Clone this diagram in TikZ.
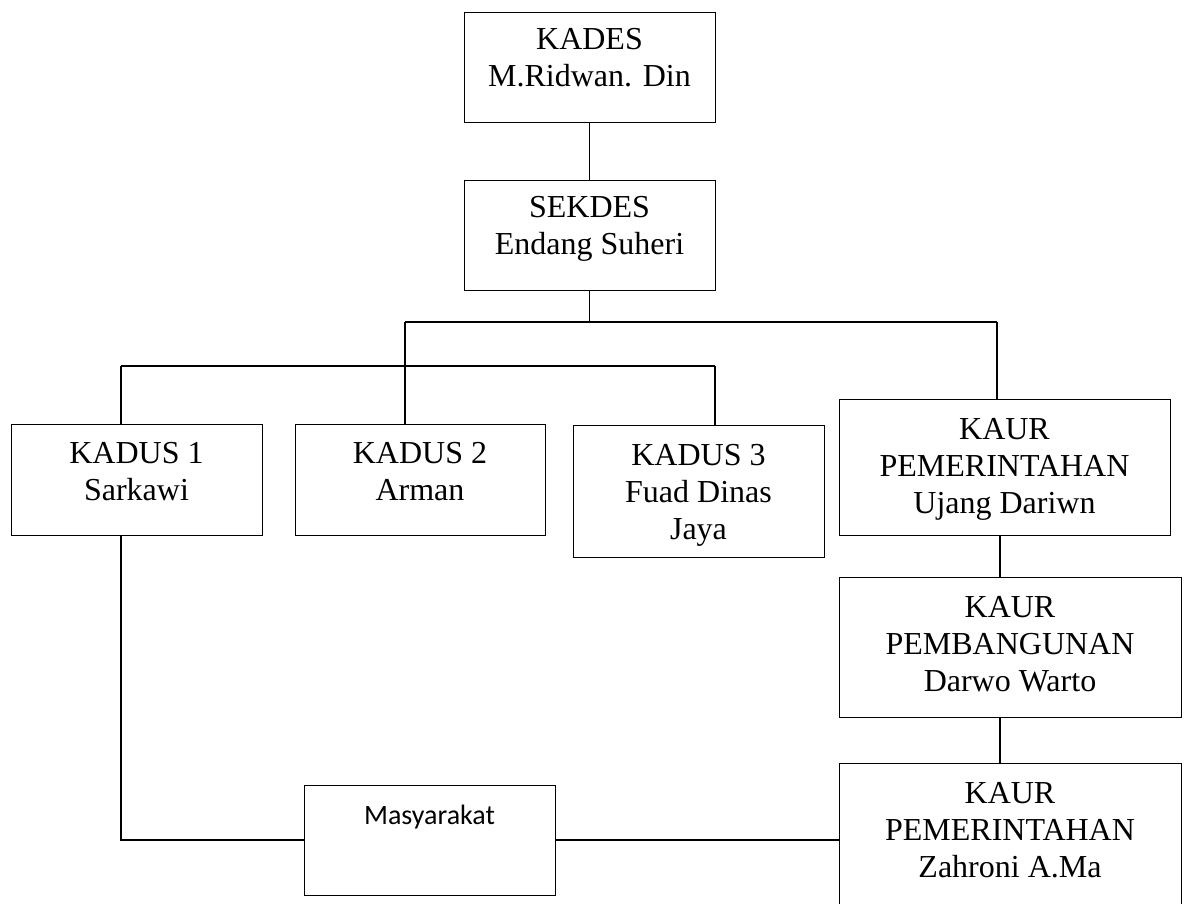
\documentclass[tikz,border=0pt]{standalone}
\usepackage{fontspec}
\setmainfont{Liberation Serif}
\newfontfamily\calibrifont{Carlito}
\usetikzlibrary{positioning}

\begin{document}
\begin{tikzpicture}[x=1pt,y=-1pt,
    box/.style={draw=black,line width=0.9pt,inner sep=0pt,minimum width=251pt,minimum height=110pt},
    txt/.style={align=center,inner sep=0pt,font=\fontsize{32}{36.7}\selectfont},
    link/.style={draw=black,line width=1.4pt}]
  \useasboundingbox (0,0) rectangle (1189,904);
  \clip (0,0) rectangle (1189,904);
  % top of the chart
  \node[box] (kades) at (589.5,67) {};
  \node[txt,below=17pt of kades.north] (kadest) {KADES\\M.Ridwan. Din};
  \node[box] (sekdes) at (589.5,235) {};
  \node[txt,below=17pt of sekdes.north] (sekdest) {SEKDES\\Endang Suheri};
  % kadus row
  \node[box,minimum height=111pt] (kadus1) at (136.5,479.5) {};
  \node[txt,below=19pt of kadus1.north] (kadus1t) {KADUS 1\\Sarkawi};
  \node[box,minimum width=250pt,minimum height=111pt] (kadus2) at (420,479.5) {};
  \node[txt,below=19pt of kadus2.north] (kadus2t) {KADUS 2\\Arman};
  \node[box,minimum height=132pt] (kadus3) at (698.5,491) {};
  \node[txt,below=20pt of kadus3.north] (kadus3t) {KADUS 3\\Fuad Dinas\\Jaya};
  % kaur column
  \node[box,minimum width=331pt,minimum height=136pt] (kaurpem) at (1004.5,467) {};
  \node[txt,below=20pt of kaurpem.north] (kaurpemt) {KAUR\\PEMERINTAHAN\\Ujang Dariwn};
  \node[box,minimum width=342pt,minimum height=140pt] (kaurbang) at (1010,647) {};
  \node[txt,below=20pt of kaurbang.north] (kaurbangt) {KAUR\\PEMBANGUNAN\\Darwo Warto};
  \node[box,minimum width=342pt,minimum height=160pt] (kaurpemb) at (1010,843) {};
  \node[txt,below=20pt of kaurpemb.north] (kaurpembt) {KAUR\\PEMERINTAHAN\\Zahroni A.Ma};
  % masyarakat
  \node[box] (masy) at (429.5,840) {};
  \node[txt,font=\calibrifont\fontsize{28}{33}\selectfont,below=20pt of masy.north] (masyt) {Masyarakat};
  % bus lines
  \coordinate (bus1l) at (405,322);
  \coordinate (bus1r) at (997,322);
  \coordinate (bus2l) at (121,366);
  \coordinate (bus2r) at (715,366);
  \coordinate (kaurx) at (1000,0);
  \draw[link] (kades.south) -- (sekdes.north);
  \draw[link] (sekdes.south) -- (sekdes.south |- bus1l);
  \draw[link] (bus1l) -- (bus1r);
  \draw[link] (bus1l) -- (bus1l |- kadus2.north);
  \draw[link] (bus1r) -- (bus1r |- kaurpem.north);
  \draw[link] (bus2l) -- (bus2r);
  \draw[link] (bus2l) -- (bus2l |- kadus1.north);
  \draw[link] (bus2r) -- (bus2r |- kadus3.north);
  \draw[link] (kaurpem.south -| kaurx) -- (kaurx |- kaurbang.north);
  \draw[link] (kaurbang.south -| kaurx) -- (kaurx |- kaurpemb.north);
  \draw[link] (kadus1.south -| bus2l) |- (masy.west);
  \draw[link] (masy.east) -- (masy.east -| kaurpemb.west);
\end{tikzpicture}
\end{document}
